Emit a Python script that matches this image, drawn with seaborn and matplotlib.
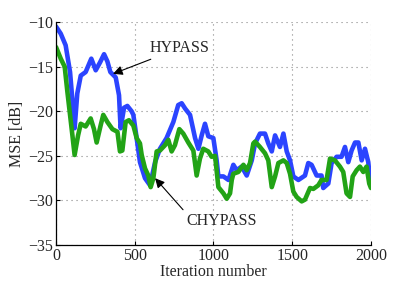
import matplotlib
matplotlib.use('Agg')
import matplotlib.pyplot as plt
import pandas as pd
import seaborn as sns

# HYPASS curve (blue)
hypass_iter = [0, 30, 61, 89, 105, 118, 135, 157, 188, 224, 252, 280, 305, 326, 345, 379,
               400, 410, 432, 453, 480, 491, 512, 533, 565, 597, 629, 660, 702, 745, 776,
               798, 820, 851, 883, 904, 925, 946, 967, 999, 1020, 1031, 1063, 1095, 1126,
               1147, 1179, 1211, 1243, 1264, 1295, 1327, 1348, 1370, 1391, 1422, 1444,
               1465, 1486, 1507, 1539, 1581, 1602, 1623, 1655, 1686, 1697, 1729, 1750,
               1782, 1813, 1835, 1856, 1877, 1899, 1920, 1941, 1962, 1983, 1994, 2000]
hypass_mse = [-10.5, -11.3, -12.6, -15.6, -19.0, -21.9, -18.0, -16.0, -15.6, -14.1, -15.4,
              -14.5, -13.6, -14.4, -15.6, -16.2, -18.2, -21.9, -19.6, -19.4, -20.0, -20.4,
              -23.0, -25.7, -27.5, -28.3, -25.7, -24.2, -23.0, -21.2, -19.3, -19.1, -19.7,
              -20.4, -23.0, -24.2, -22.7, -21.4, -22.8, -23.0, -25.5, -27.3, -27.3, -27.7,
              -26.0, -26.6, -26.2, -27.2, -25.5, -23.6, -22.5, -22.5, -23.6, -24.5, -22.7,
              -24.0, -22.5, -24.5, -25.5, -27.3, -27.7, -27.2, -25.8, -26.0, -27.2, -27.2,
              -28.6, -28.1, -25.8, -25.1, -25.1, -24.0, -25.7, -24.4, -23.5, -23.5, -25.5,
              -24.2, -25.7, -27.7, -27.5]

# CHYPASS curve (green)
chypass_iter = [0, 30, 55, 72, 89, 104, 118, 140, 157, 188, 220, 241, 258, 283, 300, 326,
                358, 390, 406, 421, 442, 463, 491, 512, 533, 544, 565, 586, 601, 618, 639,
                660, 692, 713, 734, 755, 783, 808, 840, 872, 893, 914, 935, 967, 988, 1010,
                1031, 1063, 1084, 1105, 1116, 1126, 1158, 1190, 1211, 1232, 1253, 1264,
                1295, 1327, 1348, 1370, 1391, 1412, 1444, 1465, 1486, 1507, 1528, 1560,
                1581, 1613, 1634, 1665, 1686, 1718, 1740, 1771, 1803, 1824, 1845, 1867,
                1884, 1909, 1930, 1951, 1972, 1989, 2000]
chypass_mse = [-12.8, -14.1, -15.0, -17.8, -20.4, -22.7, -24.9, -22.7, -21.4, -21.7, -20.8,
               -22.0, -23.5, -21.6, -20.4, -21.2, -22.0, -22.3, -24.5, -24.4, -21.2, -21.0,
               -21.6, -23.0, -23.6, -24.9, -26.4, -27.2, -28.5, -27.5, -24.5, -24.4, -23.8,
               -23.2, -24.5, -23.8, -22.0, -22.5, -23.5, -24.4, -27.2, -25.3, -24.2, -24.5,
               -25.1, -25.0, -28.5, -29.2, -29.8, -29.2, -27.7, -27.0, -26.8, -26.0, -26.6,
               -25.8, -23.6, -23.4, -24.0, -24.7, -25.5, -28.5, -27.3, -25.8, -25.5, -25.8,
               -27.0, -29.0, -29.6, -30.1, -29.9, -28.6, -28.7, -28.3, -27.7, -27.7, -25.3,
               -25.5, -26.2, -26.8, -29.2, -29.6, -27.3, -26.6, -26.2, -26.8, -26.2, -28.1,
               -28.6]

x_ticks = [0, 500, 1000, 1500, 2000]
y_ticks = [-35, -30, -25, -20, -15, -10]

data = pd.concat([
    pd.DataFrame({'iter': hypass_iter, 'mse': hypass_mse, 'algo': 'HYPASS'}),
    pd.DataFrame({'iter': chypass_iter, 'mse': chypass_mse, 'algo': 'CHYPASS'}),
])

sns.set_style('ticks')
plt.rcParams['font.family'] = ['Liberation Serif', 'DejaVu Serif']

fig = plt.figure(figsize=(4.09, 2.87), dpi=100)
ax = fig.add_axes([0.137, 0.146, 0.770, 0.777])

sns.lineplot(data=data, x='iter', y='mse', hue='algo', sort=False, ax=ax,
             palette={'HYPASS': '#2b44ff', 'CHYPASS': '#22a316'},
             linewidth=3.3, legend=False, estimator=None)

ax.set_xlim(0, 2000)
ax.set_ylim(-35, -10)
ax.set_xticks(x_ticks)
ax.set_yticks(y_ticks)
ax.grid(True, linestyle=(0, (1, 3.5)), color='#888888', linewidth=0.8)
ax.tick_params(direction='in', length=3, labelsize=11.5, color='black', width=0.8, pad=2)
for s in ['top', 'right']:
    ax.spines[s].set_visible(False)
for s in ['left', 'bottom']:
    ax.spines[s].set_linewidth(0.9)
    ax.spines[s].set_color('black')
ax.set_xlabel('Iteration number', fontsize=11.5, labelpad=0)
ax.set_ylabel('MSE [dB]', fontsize=11.5, labelpad=2)

ax.annotate('HYPASS', xy=(362, -15.8), xytext=(597, -12.9), fontsize=11.5,
            va='center', ha='left',
            arrowprops=dict(arrowstyle='-|>', color='black', lw=0.8,
                            mutation_scale=14, shrinkA=0, shrinkB=0))
ax.annotate('CHYPASS', xy=(629, -27.5), xytext=(825, -32.3), fontsize=11.5,
            va='center', ha='left',
            arrowprops=dict(arrowstyle='-|>', color='black', lw=0.8,
                            mutation_scale=14, shrinkA=0, shrinkB=0,
                            relpos=(0.0, 1.0)))

fig.savefig('out.png', dpi=100)
